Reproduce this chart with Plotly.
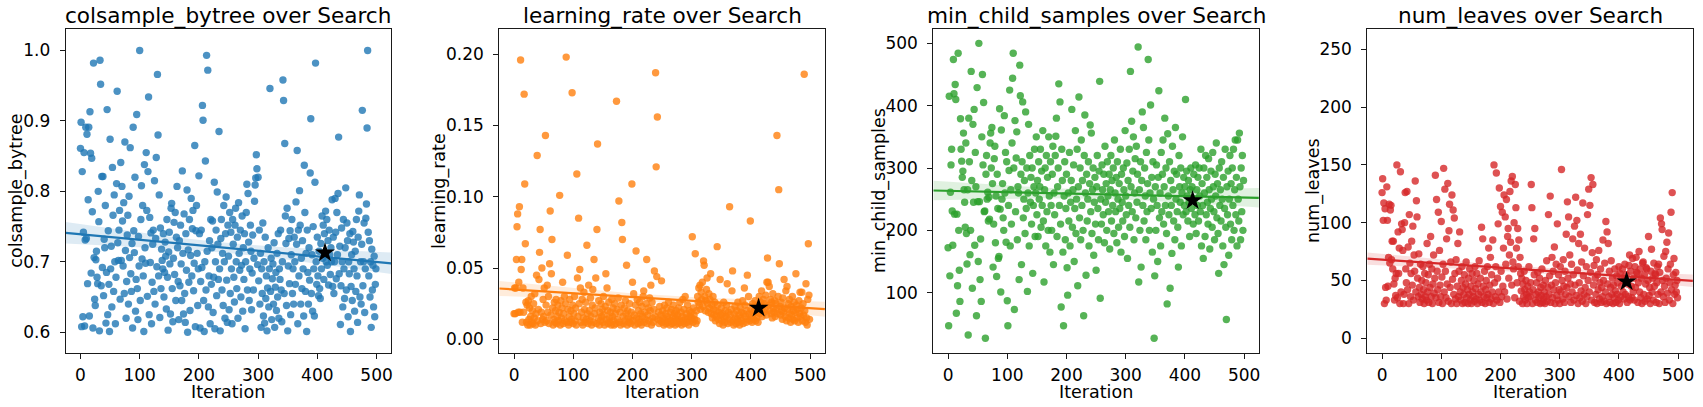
import numpy as np
import plotly.graph_objects as go

iterations = list(range(500))
best_iteration = 413

colsample_bytree = [
    0.861,0.898,0.608,0.828,0.622,0.742,0.855,0.609,0.731,0.891,0.733,0.881,0.669,0.788,0.891,0.623,0.913,0.854,0.684,0.847,0.771,0.606,0.982,0.706,0.647,
    0.638,0.703,0.715,0.678,0.669,0.800,0.757,0.602,0.986,0.952,0.666,0.821,0.692,0.821,0.652,0.732,0.720,0.780,0.613,0.685,0.916,0.625,0.744,0.668,0.601,
    0.874,0.690,0.722,0.636,0.834,0.766,0.658,0.795,0.700,0.612,0.678,0.811,0.942,0.727,0.702,0.745,0.773,0.647,0.841,0.702,0.807,0.758,0.694,0.784,0.655,
    0.870,0.716,0.620,0.672,0.738,0.766,0.640,0.793,0.706,0.862,0.683,0.658,0.726,0.606,0.891,0.744,0.713,0.820,0.630,0.675,0.909,0.662,0.618,0.736,0.694,
    1.000,0.645,0.760,0.808,0.704,0.780,0.680,0.601,0.838,0.720,0.698,0.855,0.773,0.651,0.828,0.934,0.625,0.763,0.699,0.741,0.612,0.671,0.725,0.745,0.658,
    0.815,0.640,0.733,0.848,0.693,0.966,0.880,0.680,0.795,0.621,0.748,0.662,0.718,0.702,0.690,0.740,0.650,0.685,0.728,0.708,0.633,0.760,0.678,0.603,0.714,
    0.742,0.697,0.626,0.776,0.783,0.662,0.615,0.705,0.756,0.682,0.770,0.645,0.735,0.807,0.720,0.672,0.618,0.730,0.666,0.752,0.697,0.645,0.829,0.712,0.626,
    0.768,0.655,0.614,0.740,0.688,0.802,0.600,0.717,0.671,0.760,0.631,0.709,0.790,0.680,0.747,0.773,0.659,0.698,0.865,0.608,0.744,0.780,0.712,0.638,0.690,
    0.822,0.740,0.606,0.672,0.745,0.692,0.922,0.901,0.645,0.601,0.700,0.843,0.660,0.993,0.715,0.972,0.636,0.680,0.730,0.612,0.760,0.668,0.720,0.758,0.628,
    0.678,0.813,0.605,0.700,0.745,0.652,0.799,0.725,0.675,0.885,0.690,0.602,0.733,0.760,0.660,0.712,0.638,0.780,0.700,0.620,0.740,0.792,0.674,0.614,0.752,
    0.708,0.632,0.770,0.655,0.742,0.690,0.612,0.760,0.725,0.678,0.643,0.752,0.776,0.700,0.662,0.735,0.620,0.784,0.712,0.688,0.745,0.650,0.695,0.765,0.630,
    0.720,0.675,0.740,0.605,0.700,0.770,0.810,0.660,0.797,0.728,0.645,0.690,0.752,0.715,0.632,0.684,0.738,0.660,0.705,0.786,0.809,0.819,0.852,0.832,0.696,
    0.820,0.673,0.745,0.640,0.712,0.607,0.690,0.655,0.755,0.623,0.700,0.613,0.735,0.648,0.680,0.602,0.663,0.720,0.636,0.690,0.946,0.658,0.705,0.618,0.676,
    0.697,0.640,0.727,0.607,0.664,0.685,0.631,0.712,0.650,0.740,0.620,0.690,0.675,0.745,0.660,0.615,0.700,0.958,0.929,0.655,0.868,0.765,0.726,0.638,0.776,
    0.602,0.694,0.733,0.669,0.744,0.625,0.710,0.760,0.655,0.690,0.640,0.735,0.700,0.668,0.785,0.725,0.858,0.612,0.745,0.680,0.801,0.752,0.640,0.705,0.662,
    0.730,0.690,0.623,0.837,0.770,0.658,0.712,0.601,0.745,0.685,0.640,0.720,0.674,0.826,0.903,0.655,0.710,0.630,0.750,0.690,0.623,0.813,0.982,0.700,0.668,
    0.735,0.680,0.652,0.715,0.662,0.648,0.726,0.690,0.765,0.705,0.752,0.675,0.740,0.713,0.772,0.700,0.760,0.695,0.730,0.667,0.745,0.710,0.682,0.720,0.700,
    0.788,0.665,0.735,0.655,0.700,0.790,0.742,0.676,0.770,0.710,0.797,0.877,0.683,0.722,0.611,0.666,0.748,0.700,0.636,0.760,0.690,0.648,0.720,0.805,0.660,
    0.755,0.730,0.622,0.700,0.683,0.740,0.601,0.665,0.710,0.645,0.743,0.728,0.690,0.630,0.715,0.658,0.760,0.680,0.614,0.735,0.772,0.795,0.650,0.700,0.640,
    0.725,0.915,0.666,0.700,0.755,0.628,0.690,0.762,0.782,0.890,1.000,0.742,0.680,0.730,0.650,0.700,0.607,0.718,0.660,0.695,0.636,0.708,0.622,0.668,0.690,
]

learning_rate = [
    0.018,0.036,0.018,0.036,0.056,0.079,0.088,0.019,0.040,0.093,0.019,0.196,0.049,0.056,0.012,0.036,0.019,0.172,0.109,0.067,0.026,0.012,0.024,0.010,0.027,
    0.014,0.022,0.010,0.016,0.030,0.012,0.020,0.011,0.025,0.015,0.032,0.010,0.018,0.045,0.129,0.013,0.021,0.042,0.061,0.077,0.011,0.019,0.050,0.014,0.028,
    0.016,0.036,0.012,0.143,0.024,0.013,0.038,0.019,0.030,0.011,0.053,0.090,0.017,0.046,0.070,0.022,0.010,0.014,0.026,0.012,0.020,0.028,0.011,0.016,0.024,
    0.013,0.019,0.101,0.010,0.027,0.015,0.022,0.040,0.011,0.018,0.030,0.013,0.025,0.198,0.012,0.059,0.021,0.010,0.016,0.028,0.012,0.020,0.014,0.173,0.024,
    0.011,0.018,0.030,0.013,0.022,0.010,0.116,0.043,0.016,0.085,0.025,0.049,0.036,0.012,0.019,0.028,0.010,0.015,0.033,0.021,0.012,0.026,0.014,0.066,0.018,
    0.011,0.038,0.020,0.013,0.029,0.016,0.010,0.024,0.035,0.012,0.056,0.018,0.022,0.043,0.011,0.077,0.137,0.015,0.027,0.010,0.019,0.013,0.025,0.016,0.021,
    0.012,0.030,0.017,0.010,0.023,0.046,0.014,0.036,0.020,0.011,0.026,0.015,0.012,0.019,0.010,0.028,0.016,0.022,0.013,0.010,0.025,0.018,0.011,0.167,0.021,
    0.014,0.029,0.097,0.012,0.019,0.010,0.024,0.082,0.070,0.016,0.011,0.022,0.013,0.027,0.018,0.052,0.010,0.020,0.015,0.012,0.025,0.014,0.011,0.019,0.109,
    0.040,0.013,0.032,0.017,0.010,0.024,0.062,0.015,0.028,0.011,0.020,0.014,0.026,0.012,0.018,0.010,0.023,0.016,0.030,0.034,0.012,0.019,0.014,0.025,0.056,
    0.011,0.017,0.022,0.013,0.029,0.020,0.038,0.010,0.026,0.015,0.012,0.021,0.048,0.016,0.187,0.121,0.044,0.156,0.014,0.019,0.011,0.023,0.013,0.017,0.041,
    0.012,0.020,0.015,0.010,0.024,0.013,0.018,0.011,0.022,0.016,0.012,0.026,0.014,0.010,0.019,0.013,0.021,0.011,0.016,0.024,0.012,0.018,0.010,0.015,0.020,
    0.013,0.017,0.011,0.022,0.014,0.026,0.012,0.019,0.010,0.016,0.028,0.013,0.021,0.011,0.030,0.015,0.018,0.012,0.024,0.014,0.010,0.020,0.016,0.013,0.019,
    0.015,0.072,0.012,0.022,0.017,0.014,0.060,0.011,0.020,0.013,0.030,0.026,0.036,0.024,0.038,0.021,0.033,0.028,0.040,0.023,0.055,0.052,0.030,0.020,0.027,
    0.035,0.043,0.025,0.019,0.032,0.022,0.028,0.046,0.018,0.024,0.015,0.030,0.021,0.017,0.026,0.013,0.020,0.016,0.065,0.024,0.014,0.019,0.011,0.042,0.017,
    0.022,0.013,0.018,0.010,0.026,0.015,0.012,0.020,0.016,0.024,0.039,0.011,0.019,0.014,0.093,0.017,0.012,0.021,0.034,0.048,0.013,0.010,0.018,0.023,0.015,
    0.011,0.020,0.014,0.026,0.012,0.017,0.010,0.022,0.015,0.019,0.013,0.027,0.011,0.018,0.036,0.024,0.016,0.012,0.020,0.045,0.014,0.030,0.018,0.013,0.083,
    0.021,0.016,0.012,0.025,0.018,0.014,0.020,0.027,0.013,0.019,0.015,0.024,0.012,0.022,0.030,0.018,0.026,0.020,0.034,0.016,0.023,0.028,0.019,0.025,0.021,
    0.031,0.017,0.040,0.057,0.040,0.024,0.037,0.020,0.028,0.018,0.026,0.015,0.032,0.022,0.019,0.027,0.016,0.025,0.021,0.143,0.018,0.030,0.105,0.053,0.023,
    0.017,0.026,0.020,0.014,0.029,0.019,0.042,0.022,0.016,0.034,0.013,0.037,0.021,0.025,0.015,0.028,0.018,0.012,0.023,0.017,0.030,0.014,0.020,0.026,0.013,
    0.019,0.046,0.024,0.015,0.021,0.012,0.027,0.018,0.033,0.016,0.022,0.033,0.013,0.025,0.017,0.186,0.020,0.012,0.039,0.015,0.010,0.028,0.067,0.031,0.014,
]

min_child_samples = [
    172,47,415,127,261,305,330,231,176,474,419,226,434,410,67,226,111,484,200,136,86,379,330,311,285,
    295,356,265,245,205,340,195,146,265,32,380,310,161,200,455,280,107,370,245,394,176,325,270,63,429,
    246,150,500,246,121,186,86,350,450,305,405,230,231,27,290,320,250,261,215,253,218,340,356,300,365,
    275,141,210,315,335,180,255,126,290,235,155,158,395,234,101,361,250,275,220,200,384,260,325,181,310,
    87,47,240,296,425,175,265,210,340,444,484,300,73,376,230,316,358,185,270,260,121,465,416,290,145,
    310,406,220,250,280,195,390,235,300,102,260,370,175,320,245,285,210,300,131,240,270,330,190,260,350,
    225,280,190,310,250,270,330,205,295,240,360,215,117,265,300,175,320,230,285,200,350,255,165,310,240,
    200,290,335,145,260,225,320,351,380,190,270,300,435,240,406,210,77,330,280,165,47,255,310,185,235,
    290,140,96,260,215,325,175,245,280,394,205,265,305,150,235,360,195,250,330,111,270,414,220,300,185,
    345,240,280,200,63,320,385,260,128,290,215,250,310,175,275,369,230,356,195,265,300,160,245,285,210,
    136,270,320,235,185,295,439,91,250,210,305,265,225,290,180,335,245,275,200,310,255,230,290,170,265,
    320,215,280,240,300,195,345,260,230,285,180,310,250,205,275,235,330,165,290,245,215,300,265,190,360,
    255,225,308,155,280,240,330,205,455,270,375,230,295,350,185,260,315,220,335,245,290,494,117,265,200,
    310,141,280,390,240,365,215,300,255,185,325,230,275,474,345,200,260,401,235,285,165,310,250,27,127,
    270,200,305,240,150,285,424,220,260,175,325,230,290,345,210,270,380,240,300,195,82,355,255,225,310,
    107,280,240,163,335,265,215,295,185,365,250,290,230,205,141,320,270,245,300,175,260,350,225,285,240,
    270,410,230,295,255,215,280,245,190,265,300,235,270,248,210,290,250,225,305,195,265,240,285,215,300,
    255,230,330,175,275,240,155,300,260,190,320,225,285,245,210,315,265,170,235,295,250,205,325,270,230,
    185,290,255,340,220,275,195,131,300,240,265,215,310,250,175,285,145,235,330,205,57,270,225,295,160,
    250,320,210,275,185,300,240,330,200,265,345,225,285,175,345,250,215,356,270,185,300,230,320,200,280,
]

num_leaves = [
    126,138,102,117,30,112,44,33,131,102,45,70,116,65,111,115,68,84,60,84,47,33,52,37,56,
    150,35,92,56,78,30,144,40,99,94,76,30,38,100,126,60,48,127,42,79,30,107,65,36,56,
    84,46,97,33,72,58,136,40,119,105,52,36,73,44,31,64,38,50,34,62,42,30,56,36,48,
    33,82,40,55,31,64,44,88,36,60,30,47,72,39,52,141,35,120,58,42,109,31,76,46,36,
    101,53,30,64,147,40,129,58,35,86,47,134,32,93,116,44,66,30,124,51,111,38,104,56,34,
    68,30,45,82,36,58,92,40,33,50,62,30,44,38,55,31,47,66,35,42,30,52,38,60,33,
    45,30,56,40,36,50,32,62,43,34,56,30,47,38,67,33,52,40,96,31,86,45,36,58,30,
    42,50,35,62,38,78,31,46,70,34,55,40,85,30,150,48,36,62,143,33,52,99,40,130,31,
    114,58,36,109,45,78,124,40,105,64,120,34,88,95,52,72,127,83,136,46,140,66,60,100,35,
    133,113,78,48,95,62,85,32,70,56,41,52,30,47,36,58,42,33,50,38,30,45,35,62,40,
    36,48,133,113,30,42,86,55,95,33,38,48,31,57,40,35,52,30,44,37,60,31,46,34,40,
    30,50,36,67,32,44,107,38,54,123,31,46,70,35,58,42,79,30,48,64,37,99,33,55,42,
    30,62,40,146,50,34,68,45,31,58,38,90,44,118,52,105,36,72,47,31,64,40,86,55,33,
    97,46,122,37,102,59,30,82,48,35,90,41,66,32,117,54,38,78,44,30,62,36,107,50,129,
    40,115,57,139,33,74,133,46,63,31,52,38,68,30,55,42,76,34,48,60,31,44,36,85,50,
    32,65,40,101,30,92,47,82,36,58,31,44,67,38,52,30,46,35,60,41,31,54,38,48,33,
    62,30,56,36,45,52,60,40,50,34,64,38,55,49,31,47,36,63,72,33,58,45,35,69,40,
    52,33,62,44,70,57,56,31,48,75,40,60,35,52,30,65,66,38,55,32,47,61,60,34,50,
    88,37,44,30,58,77,40,52,33,65,45,56,55,31,48,62,38,64,30,57,104,40,99,94,50,
    36,71,45,31,75,52,83,39,60,91,33,48,64,109,42,126,30,55,69,38,46,57,40,50,35,
]

param_names = ["colsample_bytree", "learning_rate", "min_child_samples", "num_leaves"]
param_values = [colsample_bytree, learning_rate, min_child_samples, num_leaves]
colors = ["#1f77b4", "#ff7f0e", "#2ca02c", "#d62728"]
band_colors = ["rgba(31,119,180,0.15)", "rgba(255,127,14,0.15)",
               "rgba(44,160,44,0.15)", "rgba(214,39,40,0.15)"]
y_ranges = [[0.571, 1.030], [-0.0094, 0.2175], [3.7, 522.5], [-12.5, 267.3]]
y_ticks = [[0.6, 0.7, 0.8, 0.9, 1.0], [0.0, 0.05, 0.10, 0.15, 0.20],
           [100, 200, 300, 400, 500], [0, 50, 100, 150, 200, 250]]
y_formats = [".1f", ".2f", "d", "d"]
x_ticks = [0, 100, 200, 300, 400, 500]

W, H = 1703, 407
frame_left = [65.7, 499.3, 933.3, 1367.3]
frame_w = 325.6
frame_top, frame_bot = 29.3, 352.7
ylabel_x = [15.7, 439.0, 879.0, 1313.0]
x_range = [-24.95, 524.95]

FONT = "DejaVu Sans"
fig = go.Figure()
annotations = []
layout_axes = {}

x = np.array(iterations, dtype=float)
for k in range(4):
    y = np.array(param_values[k], dtype=float)
    assert len(y) == len(x)
    xa = "x" if k == 0 else f"x{k+1}"
    ya = "y" if k == 0 else f"y{k+1}"

    # scatter points
    fig.add_trace(go.Scatter(x=x, y=y, mode="markers", xaxis=xa, yaxis=ya,
                             marker=dict(color=colors[k], size=7.4, opacity=0.8,
                                         line=dict(width=0)),
                             showlegend=False, hoverinfo="skip"))
    # linear regression with 95% confidence band
    slope, intercept = np.polyfit(x, y, 1)
    xg = np.linspace(x_range[0], x_range[1], 100)
    yg = intercept + slope * xg
    resid = y - (intercept + slope * x)
    n = len(x)
    s = np.sqrt(np.sum(resid ** 2) / (n - 2))
    sxx = np.sum((x - x.mean()) ** 2)
    se = s * np.sqrt(1.0 / n + (xg - x.mean()) ** 2 / sxx)
    fig.add_trace(go.Scatter(x=xg, y=yg + 1.96 * se, mode="lines", xaxis=xa, yaxis=ya,
                             line=dict(width=0, color=band_colors[k]),
                             showlegend=False, hoverinfo="skip"))
    fig.add_trace(go.Scatter(x=xg, y=yg - 1.96 * se, mode="lines", xaxis=xa, yaxis=ya,
                             line=dict(width=0, color=band_colors[k]), fill="tonexty",
                             fillcolor=band_colors[k], showlegend=False, hoverinfo="skip"))
    fig.add_trace(go.Scatter(x=xg, y=yg, mode="lines", xaxis=xa, yaxis=ya,
                             line=dict(width=2.2, color=colors[k]),
                             showlegend=False, hoverinfo="skip"))
    # best iteration star
    fig.add_trace(go.Scatter(x=[best_iteration], y=[y[best_iteration]], mode="markers",
                             xaxis=xa, yaxis=ya,
                             marker=dict(symbol="star", size=15, color="black",
                                         line=dict(width=0)),
                             showlegend=False, hoverinfo="skip"))

    x0 = frame_left[k] / W
    x1 = (frame_left[k] + frame_w) / W
    axis_common = dict(showline=True, linecolor="#1a1a1a", linewidth=1, mirror=True,
                       ticks="outside", ticklen=5, tickwidth=1, tickcolor="#1a1a1a",
                       showgrid=False, zeroline=False,
                       tickfont=dict(family=FONT, size=17, color="black"))
    layout_axes["xaxis" if k == 0 else f"xaxis{k+1}"] = dict(
        domain=[x0, x1], range=x_range, anchor=ya, tickvals=x_ticks,
        ticklabelstandoff=2, **axis_common)
    layout_axes["yaxis" if k == 0 else f"yaxis{k+1}"] = dict(
        domain=[1 - frame_bot / H, 1 - frame_top / H], range=y_ranges[k], anchor=xa,
        tickvals=y_ticks[k], tickformat=y_formats[k], ticklabelstandoff=6, **axis_common)

    cx = (x0 + x1) / 2
    annotations.append(dict(text=f"{param_names[k]} over Search", x=cx, y=1 - 16.0 / H,
                            xref="paper", yref="paper", showarrow=False,
                            xanchor="center", yanchor="middle",
                            font=dict(family=FONT, size=21.6, color="black")))
    annotations.append(dict(text="Iteration", x=cx, y=1 - 392.0 / H,
                            xref="paper", yref="paper", showarrow=False,
                            xanchor="center", yanchor="middle",
                            font=dict(family=FONT, size=17.5, color="black")))
    annotations.append(dict(text=param_names[k], x=ylabel_x[k] / W,
                            y=1 - (frame_top + frame_bot) / 2 / H,
                            xref="paper", yref="paper", showarrow=False, textangle=-90,
                            xanchor="center", yanchor="middle",
                            font=dict(family=FONT, size=17.5, color="black")))

fig.update_layout(width=W, height=H, autosize=False,
                  margin=dict(l=0, r=0, t=0, b=0),
                  paper_bgcolor="white", plot_bgcolor="white",
                  annotations=annotations, **layout_axes)
fig.write_html("out.html")
